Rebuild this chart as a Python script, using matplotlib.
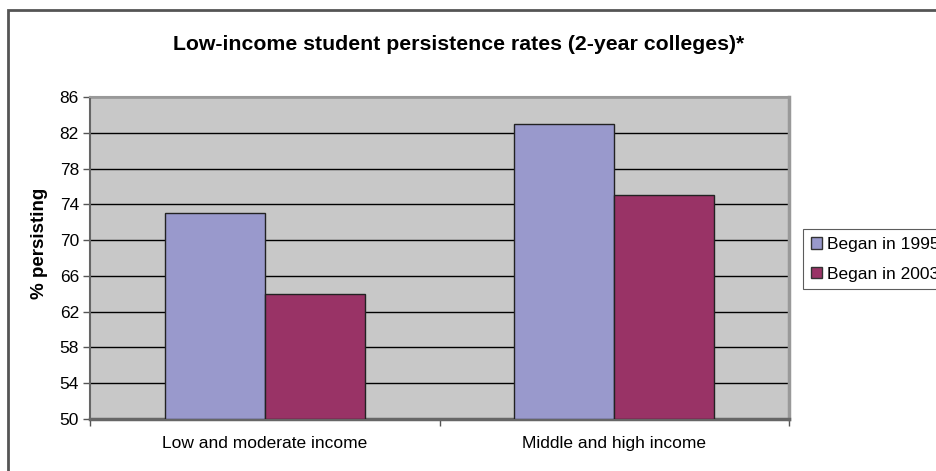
import matplotlib.pyplot as plt
import matplotlib.patches as mpatches
import numpy as np

plt.rcParams['font.family'] = ['Liberation Sans', 'DejaVu Sans']

categories = ['Low and moderate income', 'Middle and high income']
began_1995 = [73, 83]
began_2003 = [64, 75]
series_names = ['Began in 1995', 'Began in 2003']
yticks = [50, 54, 58, 62, 66, 70, 74, 78, 82, 86]

W, H = 936, 471
fig = plt.figure(figsize=(W / 100, H / 100), dpi=100)
ax = fig.add_axes([90 / W, 1 - 419 / H, 699 / W, 322 / H])

x = np.arange(len(categories))
w = 100 / 350
c1 = '#9999cc'
c2 = '#993366'
ax.bar(x - w / 2, [v - 50 for v in began_1995], w, bottom=50, color=c1, edgecolor='#222222', linewidth=1, zorder=3)
ax.bar(x + w / 2, [v - 50 for v in began_2003], w, bottom=50, color=c2, edgecolor='#222222', linewidth=1, zorder=3)

ax.set_facecolor('#c8c8c8')
ax.set_ylim(50, 86)
ax.set_xlim(-0.5, len(categories) - 0.5)
ax.set_yticks(yticks)
ax.tick_params(axis='y', labelsize=12.5, length=5, width=1, color='#555555', pad=3)
ax.yaxis.grid(True, color='black', linewidth=1, zorder=1)

ax.set_xticks(np.arange(len(categories) + 1) - 0.5)
ax.set_xticklabels([])
ax.set_xticks(x, minor=True)
ax.set_xticklabels(categories, minor=True, fontsize=12.5)
ax.tick_params(axis='x', which='major', length=5, width=1, color='#555555')
ax.tick_params(axis='x', which='minor', length=0, pad=12)

ax.spines['top'].set_color('#999999')
ax.spines['top'].set_linewidth(1.5)
ax.spines['right'].set_color('#999999')
ax.spines['right'].set_linewidth(2.5)
ax.spines['left'].set_color('#666666')
ax.spines['bottom'].set_color('#666666')
ax.spines['left'].set_linewidth(1.5)
ax.spines['bottom'].set_linewidth(2.5)

fig.text(39 / W, 1 - 243 / H, '% persisting', rotation=90, ha='center', va='center',
         fontsize=13.5, fontweight='bold')
fig.text(459 / W, 1 - 45 / H, 'Low-income student persistence rates (2-year colleges)*',
         ha='center', va='center', fontsize=15.3, fontweight='bold')

# outer chart frame
frame = mpatches.Rectangle((8 / W, -0.1), 1.2, 1 - 10 / H + 0.1, transform=fig.transFigure,
                           fill=False, edgecolor='#555555', linewidth=2, clip_on=False)
fig.patches.append(frame)

handles = [mpatches.Patch(facecolor=c1, edgecolor='#333333', label=series_names[0]),
           mpatches.Patch(facecolor=c2, edgecolor='#333333', label=series_names[1])]
leg = fig.legend(handles=handles, loc='upper left', bbox_to_anchor=(803 / W, 1 - 229 / H),
                 fontsize=12.5, frameon=True, fancybox=False, handlelength=0.65, handleheight=0.65,
                 handletextpad=0.3, borderpad=0.45, labelspacing=0.85, borderaxespad=0)
leg.get_frame().set_edgecolor('#333333')
leg.get_frame().set_linewidth(0.8)

fig.savefig('out.png', dpi=100)
